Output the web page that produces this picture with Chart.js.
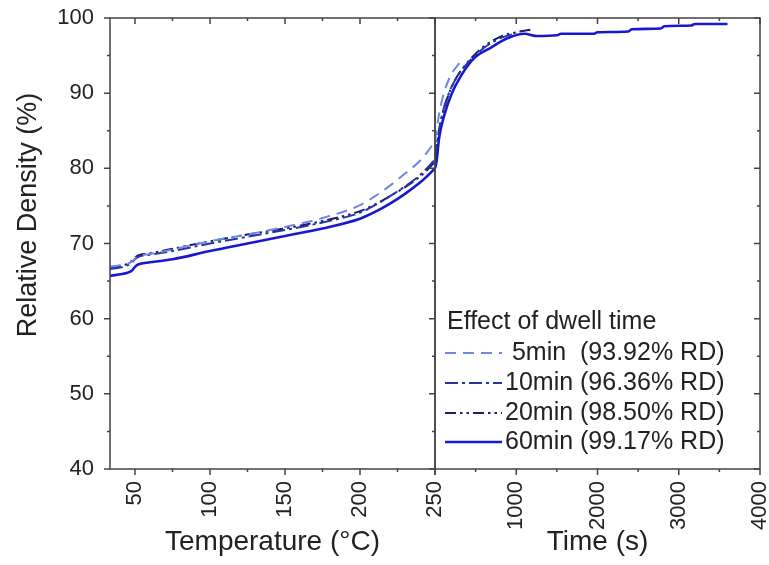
<!DOCTYPE html>
<html>
<head>
<meta charset="utf-8">
<script src="https://cdn.jsdelivr.net/npm/chart.js@4"></script>
<style>
  html, body { margin: 0; padding: 0; background: #fff; overflow: hidden; }
  #wrap { position: relative; width: 769px; height: 565px; }
  canvas { position: absolute; top: 0; }
  #tempChart { left: 0; }
  #timeChart { left: 420px; }
</style>
</head>
<body>
<div id="wrap">
  <canvas id="tempChart" width="460" height="565"></canvas>
  <canvas id="timeChart" width="353" height="565"></canvas>
</div>
<script>
// series info
const seriesNames = ['5min', '10min', '20min', '60min'];
const finalRD = ['93.92', '96.36', '98.50', '99.17'];

// left panel: heating ramp, relative density vs temperature
const tempC = [33.3, 40, 45, 48, 50, 52, 60, 75, 100, 125, 150, 175, 200, 210, 220, 230, 240, 245, 250];
const rdTemp5 = [66.9, 67.1, 67.3, 67.6, 68.0, 68.3, 68.6, 69.2, 70.3, 71.2, 72.2, 73.4, 75.1, 76.3, 77.7, 79.3, 81.0, 82.2, 83.6];
const rdTemp10 = [66.6, 66.8, 67.1, 67.5, 67.9, 68.2, 68.5, 69.0, 70.0, 70.9, 71.8, 72.8, 74.1, 75.1, 76.3, 77.6, 79.1, 80.1, 81.2];
const rdTemp20 = [66.8, 67.0, 67.3, 67.7, 68.1, 68.4, 68.7, 69.3, 70.3, 71.2, 72.0, 73.0, 74.3, 75.2, 76.3, 77.5, 78.9, 79.8, 80.9];
const rdTemp60 = [65.7, 65.9, 66.1, 66.4, 66.9, 67.2, 67.5, 67.9, 69.0, 70.0, 71.0, 72.0, 73.3, 74.2, 75.3, 76.6, 78.1, 79.0, 80.0];

// right panel: dwell at 250 C, relative density vs time
const time5 = [0, 50, 115, 200, 300];
const rdTime5 = [83.6, 87.2, 90.2, 92.5, 94.0];
const time10 = [0, 30, 80, 150, 250, 400, 600, 800, 1000];
const rdTime10 = [81.2, 83.8, 86.8, 89.4, 91.8, 94.0, 96.0, 97.3, 98.0];
const time20 = [0, 30, 80, 150, 250, 400, 600, 800, 1000, 1200];
const rdTime20 = [80.9, 83.5, 86.6, 89.3, 91.8, 94.1, 96.2, 97.5, 98.1, 98.5];
const time60 = [0, 20, 50, 115, 200, 325, 485, 695, 890, 1100, 1260, 1500, 1550, 1950, 2000, 2380, 2420, 2780, 2820, 3150, 3200, 3600];
const rdTime60 = [80.0, 81.0, 84.0, 87.1, 89.8, 92.4, 94.7, 96.1, 97.3, 97.9, 97.6, 97.7, 97.9, 97.9, 98.1, 98.2, 98.5, 98.6, 98.9, 99.0, 99.2, 99.2];

// axis ticks (major + minor)
const yTicks = [40, 45, 50, 55, 60, 65, 70, 75, 80, 85, 90, 95, 100];
const tempTicks = [50, 75, 100, 125, 150, 175, 200, 225, 250];
const tempLabels = [50, 100, 150, 200, 250];
const timeTicks = [0, 500, 1000, 1500, 2000, 2500, 3000, 3500, 4000];
const timeLabels = [1000, 2000, 3000, 4000];

const styles = [
  { color: '#7088e0', width: 2, dash: [11, 7] },
  { color: '#2535a5', width: 2, dash: [13, 4, 3, 4] },
  { color: '#1c1c70', width: 2, dash: [11, 4, 2.5, 4, 2.5, 4] },
  { color: '#1818d0', width: 2.6, dash: [] }
];

const pair = (xs, ys) => xs.map((x, i) => ({ x: x, y: ys[i] }));

const makeDatasets = (sets) => sets.map((pts, i) => ({
  label: seriesNames[i],
  data: pts,
  borderColor: styles[i].color,
  borderWidth: styles[i].width,
  borderDash: styles[i].dash,
  pointRadius: 0,
  fill: false,
  cubicInterpolationMode: 'monotone'
}));

const textColor = '#222';
const axisColor = '#444';

// box + all tick marks, majors longer than minors
const frameTicks = {
  id: 'frameTicks',
  afterDraw(chart, args, opts) {
    const { ctx, chartArea: a } = chart;
    const x = chart.scales.x, y = chart.scales.y;
    ctx.save();
    ctx.strokeStyle = axisColor;
    ctx.lineWidth = 1.5;
    ctx.strokeRect(a.left, a.top, a.right - a.left, a.bottom - a.top);
    ctx.beginPath();
    opts.xTicks.forEach(v => {
      const px = x.getPixelForValue(v);
      const len = opts.xMajor.includes(v) || v === opts.xTicks[0] ? 6 : 3;
      ctx.moveTo(px, a.bottom); ctx.lineTo(px, a.bottom + len);
      ctx.moveTo(px, a.top); ctx.lineTo(px, a.top + len);
    });
    yTicks.forEach(v => {
      const py = y.getPixelForValue(v);
      const len = v % 10 === 0 ? 6 : 3;
      if (opts.leftTicks) { ctx.moveTo(a.left, py); ctx.lineTo(a.left - len, py); }
      ctx.moveTo(a.right, py); ctx.lineTo(a.right - len, py);
    });
    ctx.stroke();
    ctx.restore();
  }
};

// y title sits a bit above the axis middle in the original
const yTitle = {
  id: 'yTitle',
  afterDraw(chart) {
    const ctx = chart.ctx;
    ctx.save();
    ctx.translate(29, 215);
    ctx.rotate(-Math.PI / 2);
    ctx.font = '27px "Liberation Sans", Arial, sans-serif';
    ctx.fillStyle = textColor;
    ctx.textAlign = 'center';
    ctx.textBaseline = 'middle';
    ctx.fillText('Relative Density (%)', 0, 0);
    ctx.restore();
  }
};

// legend drawn inside the right panel
const dwellLegend = {
  id: 'dwellLegend',
  afterDraw(chart) {
    const ctx = chart.ctx;
    const rows = [353, 383, 413, 442];
    ctx.save();
    ctx.font = '25px "Liberation Sans", Arial, sans-serif';
    ctx.fillStyle = textColor;
    ctx.textBaseline = 'middle';
    ctx.fillText('Effect of dwell time', 27, 322);
    chart.data.datasets.forEach((ds, i) => {
      ctx.save();
      ctx.strokeStyle = ds.borderColor;
      ctx.lineWidth = ds.borderWidth;
      ctx.setLineDash(ds.borderDash);
      ctx.beginPath();
      ctx.moveTo(25, rows[i]);
      ctx.lineTo(82, rows[i]);
      ctx.stroke();
      ctx.restore();
      const name = i === 0 ? ' ' + seriesNames[i] + ' ' : seriesNames[i];
      ctx.fillText(name + ' (' + finalRD[i] + '% RD)', 85, rows[i]);
    });
    ctx.restore();
  }
};

const tickFont = { family: '"Liberation Sans", Arial, sans-serif', size: 22 };
const titleFont = { family: '"Liberation Sans", Arial, sans-serif', size: 28 };

const yScale = (show) => ({
  type: 'linear',
  min: 40,
  max: 100,
  display: show,
  afterBuildTicks: s => { s.ticks = yTicks.map(v => ({ value: v })); },
  afterFit: s => {
    s.width = show ? 110 : 0;
    s.paddingTop = 0;
    s.paddingBottom = 0;
  },
  grid: { display: false },
  border: { display: false },
  ticks: {
    font: tickFont,
    color: textColor,
    padding: 8,
    callback: v => (v % 10 === 0 ? v : '')
  }
});

const xScale = (min, max, tickList, labelList, title) => ({
  type: 'linear',
  min: min,
  max: max,
  afterBuildTicks: s => { s.ticks = tickList.map(v => ({ value: v })); },
  afterFit: s => {
    s.height = 96;
    s.paddingLeft = 0;
    s.paddingRight = 0;
  },
  grid: { display: false },
  border: { display: false },
  ticks: {
    font: tickFont,
    color: textColor,
    padding: 4,
    minRotation: 90,
    maxRotation: 90,
    autoSkip: false,
    callback: v => (labelList.includes(v) ? v : '')
  },
  title: {
    display: true,
    text: title,
    font: titleFont,
    color: textColor,
    padding: { top: 0, bottom: 6 }
  }
});

const tempChart = new Chart('tempChart', {
  type: 'line',
  data: {
    datasets: makeDatasets([
      pair(tempC, rdTemp5),
      pair(tempC, rdTemp10),
      pair(tempC, rdTemp20),
      pair(tempC, rdTemp60)
    ])
  },
  options: {
    responsive: false,
    animation: false,
    devicePixelRatio: 1,
    layout: { padding: { top: 18, right: 25, left: 0, bottom: 0 } },
    plugins: {
      legend: { display: false },
      tooltip: { enabled: false },
      frameTicks: { xTicks: tempTicks, xMajor: tempLabels, leftTicks: true }
    },
    scales: {
      x: xScale(33.33, 250, tempTicks, tempLabels, 'Temperature (°C)'),
      y: yScale(true)
    }
  },
  plugins: [frameTicks, yTitle]
});

const timeChart = new Chart('timeChart', {
  type: 'line',
  data: {
    datasets: makeDatasets([
      pair(time5, rdTime5),
      pair(time10, rdTime10),
      pair(time20, rdTime20),
      pair(time60, rdTime60)
    ])
  },
  options: {
    responsive: false,
    animation: false,
    devicePixelRatio: 1,
    layout: { padding: { top: 18, right: 13, left: 15, bottom: 0 } },
    plugins: {
      legend: { display: false },
      tooltip: { enabled: false },
      frameTicks: { xTicks: timeTicks, xMajor: timeLabels, leftTicks: false }
    },
    scales: {
      x: xScale(0, 4000, timeTicks, timeLabels, 'Time (s)'),
      y: yScale(false)
    }
  },
  plugins: [frameTicks, dwellLegend]
});
</script>
</body>
</html>
